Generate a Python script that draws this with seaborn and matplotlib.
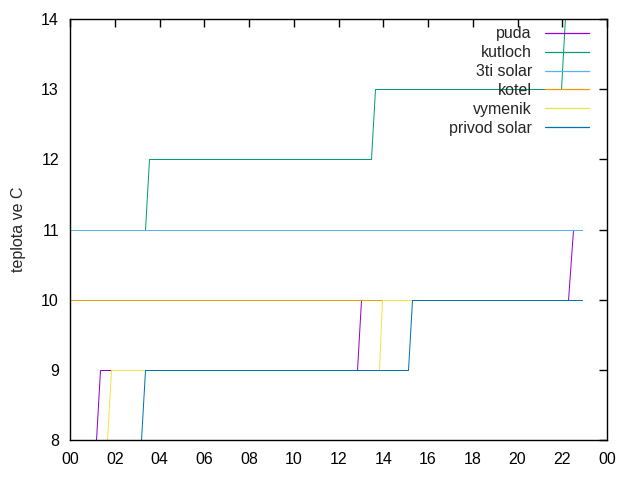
import pandas as pd
import seaborn as sns
import matplotlib
matplotlib.use("Agg")
import matplotlib.pyplot as plt

# time in hours of the day, temperature in C
puda_t = [1.16, 1.34, 12.83, 13.0, 22.26, 22.48, 22.9]
puda_v = [8, 9, 9, 10, 10, 11, 11]
kutloch_t = [0.0, 3.35, 3.53, 13.45, 13.63, 21.94, 22.3]
kutloch_v = [11, 11, 12, 12, 13, 13, 15]
solar3_t = [0.0, 22.9]
solar3_v = [11, 11]
kotel_t = [0.0, 22.9]
kotel_v = [10, 10]
vymenik_t = [1.65, 1.83, 13.81, 13.94, 22.9]
vymenik_v = [8, 9, 9, 10, 10]
privod_t = [3.17, 3.34, 15.12, 15.3, 22.9]
privod_v = [8, 9, 9, 10, 10]

names = ["puda", "kutloch", "3ti solar", "kotel", "vymenik", "privod solar"]
colors = ["#9400d3", "#009e73", "#56b4e9", "#e69f00", "#f0e442", "#0072b2"]
xtick_labels = ["00", "02", "04", "06", "08", "10", "12", "14", "16", "18", "20", "22", "00"]

series = [(puda_t, puda_v), (kutloch_t, kutloch_v), (solar3_t, solar3_v),
          (kotel_t, kotel_v), (vymenik_t, vymenik_v), (privod_t, privod_v)]

sns.set_style("white")
plt.rcParams["font.family"] = ["Liberation Sans", "DejaVu Sans"]

fig = plt.figure(figsize=(6.4, 4.8), dpi=100)
ax = fig.add_axes([70 / 640, 1 - 440 / 480, 537 / 640, 421 / 480])

# draw one by one so later series sit on top, like in gnuplot
for i, (name, color, (t, v)) in enumerate(zip(names, colors, series)):
    d = pd.DataFrame({"cas": t, "teplota": v})
    sns.lineplot(data=d, x="cas", y="teplota", color=color, label=name,
                 sort=False, estimator=None, linewidth=0.72, ax=ax)
    ln = ax.lines[-1]
    ln.set_snap(True)
    ln.set_zorder(2 + i * 0.1)

ax.set_xlim(0, 24)
ax.set_ylim(8, 14)
ax.set_xticks(range(0, 25, 2))
ax.set_xticklabels(xtick_labels)
ax.set_yticks(range(8, 15))
ax.set_xlabel("")
ax.set_ylabel("teplota ve C", fontsize=11.5, labelpad=11)
ax.tick_params(direction="in", length=6, width=1, labelsize=11.5,
               top=True, right=True, colors="black")
ax.tick_params(axis="x", pad=9)
ax.tick_params(axis="y", pad=8)
for sp in ax.spines.values():
    sp.set_color("black")
    sp.set_linewidth(1)

leg = ax.legend(loc="upper right", frameon=False, markerfirst=False, fontsize=11.5,
                handlelength=2.8, labelspacing=0.24, borderaxespad=0.2,
                bbox_to_anchor=(0.985, 1.005))
for h in leg.get_lines():
    h.set_linewidth(0.9)

fig.savefig("out.png", dpi=100)
